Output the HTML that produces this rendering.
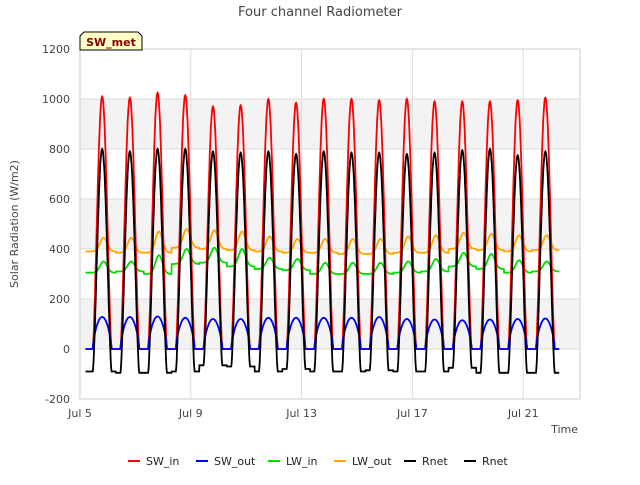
<!DOCTYPE html>
<html><head><meta charset="utf-8"><style>
body{margin:0;background:#fff;font-family:"Liberation Sans","DejaVu Sans",sans-serif}
</style></head><body>
<svg id="c" width="640" height="480" xmlns="http://www.w3.org/2000/svg" style="font-family:'DejaVu Sans','Liberation Sans',sans-serif">
<rect width="640" height="480" fill="#fff"/>
<g id="plot"></g>
<text x="320" y="16" text-anchor="middle" font-size="13" fill="#444">Four channel Radiometer</text>
<text x="18" y="224" text-anchor="middle" font-size="11" fill="#444" transform="rotate(-90 18 224)">Solar Radiation (W/m2)</text>
<text x="578" y="433" text-anchor="end" font-size="11" fill="#444">Time</text>
<g>
<path d="M80,50 L80,36 L84,32 L138,32 L142,36 L142,50 Z" fill="#ffffc8" stroke="#000" stroke-width="1"/>
<text x="111" y="46" text-anchor="middle" font-size="11" font-weight="bold" fill="#8b0000">SW_met</text>
</g>
<g id="legend"></g>
</svg>
<script>
const yTicks=[-200,0,200,400,600,800,1000,1200];
const xTickLabels=["Jul 5","Jul 9","Jul 13","Jul 17","Jul 21"];
const xTickDays=[0,4,8,12,16];
const swInPeak=[1010,1005,1025,1015,970,975,1000,985,1000,1000,995,1000,990,990,990,995,1005];
const swOutPeak=[128,128,130,125,120,120,125,125,125,125,128,120,118,115,118,120,122];
const rnetPeak=[800,790,800,800,790,785,790,780,790,785,785,780,785,795,800,775,790];
const rnetNight=[-90,-95,-95,-90,-65,-70,-90,-80,-90,-90,-85,-90,-90,-75,-95,-95,-95];
const lwInNight=[305,310,300,340,345,330,320,315,300,300,300,305,310,330,320,305,310];
const lwInPeak=[350,350,375,400,405,400,365,360,345,345,345,350,360,385,380,355,350];
const lwOutNight=[390,385,385,405,400,395,390,385,385,380,380,385,385,400,395,390,395];
const lwOutPeak=[445,445,470,480,475,470,450,440,440,440,440,450,455,465,460,455,455];
const X0=80,X1=580,Y0=49,Y1=399,pxDay=27.7;
const xs=d=>X0+d*pxDay;
const ys=v=>Y1-(v+200)/1400*(Y1-Y0);
const NS='http://www.w3.org/2000/svg';
const plot=document.getElementById('plot');
function mk(t,a,p){const e=document.createElementNS(NS,t);for(const k in a)e.setAttribute(k,a[k]);(p||plot).appendChild(e);return e;}
mk('rect',{x:X0,y:Y0,width:X1-X0,height:Y1-Y0,fill:'#fff'});
[[800,1000],[400,600],[0,200]].forEach(b=>{const r=mk('rect',{x:X0,y:ys(b[1]),width:X1-X0,height:ys(b[0])-ys(b[1]),fill:'#f3f3f3'});

});
yTicks.forEach(v=>{const l=mk('line',{x1:X0,x2:X1,y1:ys(v),y2:ys(v),stroke:'#ddd','stroke-width':1});


const t=mk('text',{x:X0-10,y:ys(v)+4,'text-anchor':'end','font-size':11,fill:'#444'});t.textContent=v;

});
xTickDays.forEach((d,i)=>{const l=mk('line',{x1:xs(d),x2:xs(d),y1:Y0,y2:Y1,stroke:'#ddd','stroke-width':1});


const t=mk('text',{x:xs(d),y:Y1+18,'text-anchor':'middle','font-size':11,fill:'#444'});t.textContent=xTickLabels[i];

});
mk('rect',{x:X0,y:Y0,width:X1-X0,height:Y1-Y0,fill:'none',stroke:'#ccc'});
const NOON=0.8,HW=0.34,T0=0.2,T1=17.3;
function shape(t){const i=Math.round(t-NOON);const dt=t-(i+NOON);if(i<0||i>=swInPeak.length||Math.abs(dt)>HW)return[i,0];return[i,Math.pow(Math.cos(dt/HW*Math.PI/2),1.5)];}
function lw(t,night,peak){const i=Math.max(0,Math.min(night.length-1,Math.round(t-NOON)));const dt=t-(i+NOON);const p=Math.exp(-Math.pow((dt-0.05)/0.18,2));return night[i]+(peak[i]-night[i])*p;}
function series(fn,color,name){let d='';for(let t=T0;t<=T1;t+=0.01){d+=(d?'L':'M')+xs(t).toFixed(1)+','+ys(fn(t)).toFixed(1);}
const p=mk('path',{d:d,fill:'none',stroke:color,'stroke-width':1.8});

}
series(t=>lw(t,lwInNight,lwInPeak),'#00dd00','lw-in-line');
series(t=>lw(t,lwOutNight,lwOutPeak),'orange','lw-out-line');
series(t=>{const[i,s]=shape(t);return s?swInPeak[i]*s:0;},'red','sw-in-line');
series(t=>{const[i,s]=shape(t);return s?swOutPeak[i]*Math.pow(s,0.45):0;},'blue','sw-out-line');
series(t=>{const[i,s]=shape(t);const k=Math.max(0,Math.min(rnetNight.length-1,i));return rnetNight[k]+(rnetPeak[k]-rnetNight[k])*s;},'black','rnet-line');
const leg=document.getElementById('legend');
[['SW_in','red',128],['SW_out','blue',196],['LW_in','#00dd00',268],['LW_out','orange',334],['Rnet','black',404],['Rnet','black',464]].forEach(e=>{
const g=mk('g',{},leg);


mk('line',{x1:e[2],x2:e[2]+12,y1:461,y2:461,stroke:e[1],'stroke-width':2},g);
const t=mk('text',{x:e[2]+18,y:465,'font-size':11,fill:'#222'},g);t.textContent=e[0];});
</script>
</body></html>
